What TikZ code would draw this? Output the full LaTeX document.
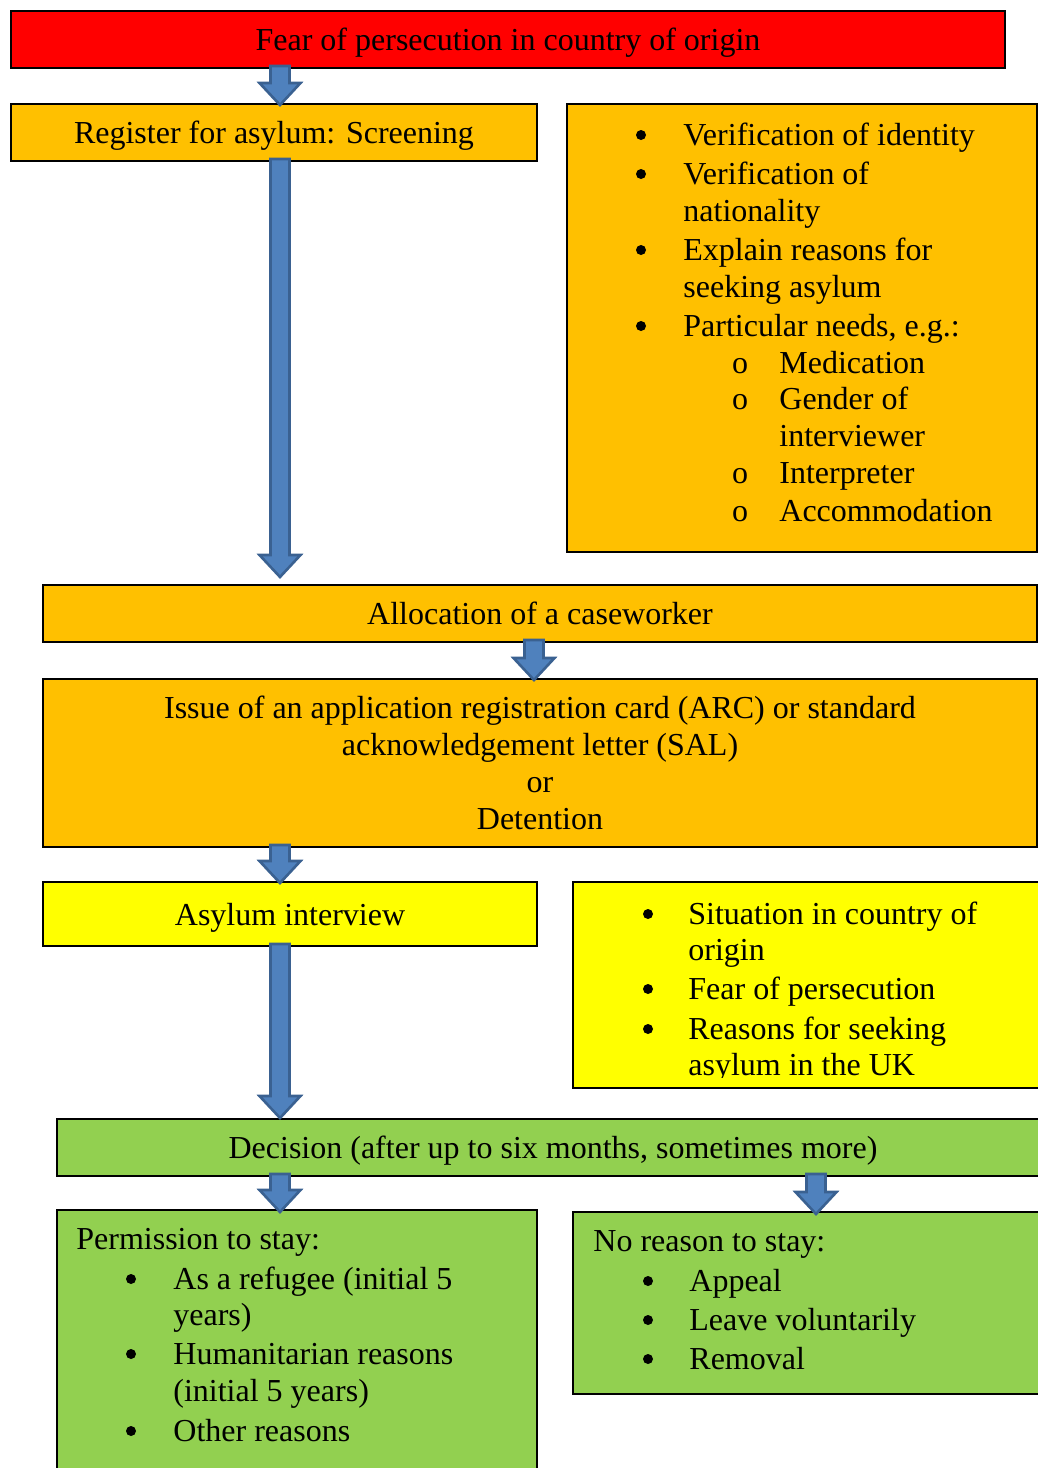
\documentclass[tikz,border=0pt]{standalone}
\usepackage{fontspec}
\setmainfont{Liberation Serif}
\usetikzlibrary{calc}
\definecolor{cred}{HTML}{FF0000}
\definecolor{corange}{HTML}{FFC000}
\definecolor{cyellow}{HTML}{FFFF00}
\definecolor{cgreen}{HTML}{92D050}
\definecolor{afill}{HTML}{4F81BD}
\definecolor{aline}{HTML}{3A6191}
\newcommand\flowfont{\fontsize{16pt}{18.5pt}\selectfont}
\newcommand\flowarrow[2]{%
  \draw[barrow] let \p1=(#1), \p2=(#2) in
    (\x1-4.75pt,\y1) -- (\x1-4.75pt,\y2+11pt) -- (\x1-10.25pt,\y2+11pt) --
    (\x1,\y2) -- (\x1+10.25pt,\y2+11pt) -- (\x1+4.75pt,\y2+11pt) --
    (\x1+4.75pt,\y1) -- cycle;}
\begin{document}
\begin{tikzpicture}[x=0.5pt,y=-0.5pt,
  box/.style={draw=black, line width=1pt, inner sep=0pt, anchor=north west, font=\flowfont, align=center, text depth=0pt},
  txt/.style={inner sep=0pt, anchor=mid west, font=\flowfont, yshift=-3pt},
  sub/.style={inner sep=0pt, anchor=mid, font=\flowfont, yshift=-3pt},
  bul/.style={circle, fill=black, inner sep=0pt, minimum size=5pt},
  barrow/.style={fill=afill, draw=aline, line width=1.3pt, line join=miter}]
\useasboundingbox (0,0) rectangle (1038,1468);
\clip (0,0) rectangle (1038,1468);
\fill[white] (0,0) rectangle (1038,1468);

\coordinate (colL) at (280,0);
\coordinate (colM) at (534,0);
\coordinate (colR) at (816,0);

% boxes
\node[box, fill=cred, minimum width=497pt, minimum height=28.5pt] (fear) at (10,10) {Fear of persecution in country of origin};
\node[box, fill=corange, minimum width=263pt, minimum height=28.5pt] (reg) at (10,103) {Register for asylum: Screening};
\node[box, fill=corange, minimum width=235pt, minimum height=224pt] (scr) at (566,103) {};
\node[box, fill=corange, minimum width=497pt, minimum height=28.5pt] (alloc) at (42,584) {Allocation of a caseworker};
\node[box, fill=corange, minimum width=497pt, minimum height=84pt] (arc) at (42,678) {Issue of an application registration card (ARC) or standard\\acknowledgement letter (SAL)\\or\\Detention};
\node[box, fill=cyellow, minimum width=247pt, minimum height=32pt] (intv) at (42,881) {Asylum interview};
\node[box, fill=cyellow, minimum width=239pt, minimum height=103pt] (topics) at (572,881) {};
\node[box, fill=cgreen, minimum width=496pt, minimum height=28.5pt] (dec) at (56,1118) {Decision (after up to six months, sometimes more)};
\node[box, fill=cgreen, minimum width=240pt, minimum height=140.5pt] (perm) at (56,1209) {};
\node[box, fill=cgreen, minimum width=239pt, minimum height=91pt] (noreason) at (572,1211) {};

% screening list
\node[bul] (sb1) at (641,135) {};
\node[txt] (st1) at (683,135) {Verification of identity};
\node[bul] (sb2) at (641,174) {};
\node[txt] (st2) at (683,174) {Verification of};
\node[txt] (st2b) at (683,211) {nationality};
\node[bul] (sb3) at (641,250) {};
\node[txt] (st3) at (683,250) {Explain reasons for};
\node[txt] (st3b) at (683,287) {seeking asylum};
\node[bul] (sb4) at (641,326) {};
\node[txt] (st4) at (683,326) {Particular needs, e.g.:};
\node[sub] (so1) at (740,363) {o};
\node[txt] (sot1) at (779,363) {Medication};
\node[sub] (so2) at (740,399) {o};
\node[txt] (sot2) at (779,399) {Gender of};
\node[txt] (sot2b) at (779,436) {interviewer};
\node[sub] (so3) at (740,473) {o};
\node[txt] (sot3) at (779,473) {Interpreter};
\node[sub] (so4) at (740,511) {o};
\node[txt] (sot4) at (779,511) {Accommodation};

% interview topics
\node[bul] (tb1) at (648,914) {};
\node[txt] (tt1) at (688,914) {Situation in country of};
\node[txt] (tt1b) at (688,950) {origin};
\node[bul] (tb2) at (648,989) {};
\node[txt] (tt2) at (688,989) {Fear of persecution};
\node[bul] (tb3) at (648,1029) {};
\node[txt] (tt3) at (688,1029) {Reasons for seeking};
\begin{scope}
\clip (572,881) rectangle (1050,1077);
\node[txt] (tt3b) at (688,1065) {asylum in the UK};
\end{scope}

% permission list
\node[txt] (ph) at (76,1239) {Permission to stay:};
\node[bul] (pb1) at (131,1279) {};
\node[txt] (pt1) at (173,1279) {As a refugee (initial 5};
\node[txt] (pt1b) at (173,1315) {years)};
\node[bul] (pb2) at (131,1354) {};
\node[txt] (pt2) at (173,1354) {Humanitarian reasons};
\node[txt] (pt2b) at (173,1391) {(initial 5 years)};
\node[bul] (pb3) at (131,1431) {};
\node[txt] (pt3) at (173,1431) {Other reasons};

% no reason list
\node[txt] (nh) at (593,1241) {No reason to stay:};
\node[bul] (nb1) at (648,1281) {};
\node[txt] (nt1) at (689,1281) {Appeal};
\node[bul] (nb2) at (648,1320) {};
\node[txt] (nt2) at (689,1320) {Leave voluntarily};
\node[bul] (nb3) at (648,1359) {};
\node[txt] (nt3) at (689,1359) {Removal};

% block arrows
\flowarrow{$(fear.south -| colL)+(0,-3)$}{$(reg.north -| colL)+(0,2)$}
\flowarrow{$(reg.south -| colL)+(0,-3)$}{$(alloc.north -| colL)+(0,-7)$}
\flowarrow{$(alloc.south -| colM)+(0,-3)$}{$(arc.north -| colM)+(0,2)$}
\flowarrow{$(arc.south -| colL)+(0,-3)$}{$(intv.north -| colL)+(0,2)$}
\flowarrow{$(intv.south -| colL)+(0,-3)$}{$(dec.north -| colL)+(0,0)$}
\flowarrow{$(dec.south -| colL)+(0,-3)$}{$(perm.north -| colL)+(0,3)$}
\flowarrow{$(dec.south -| colR)+(0,-3)$}{$(noreason.north -| colR)+(0,3)$}
\end{tikzpicture}
\end{document}
